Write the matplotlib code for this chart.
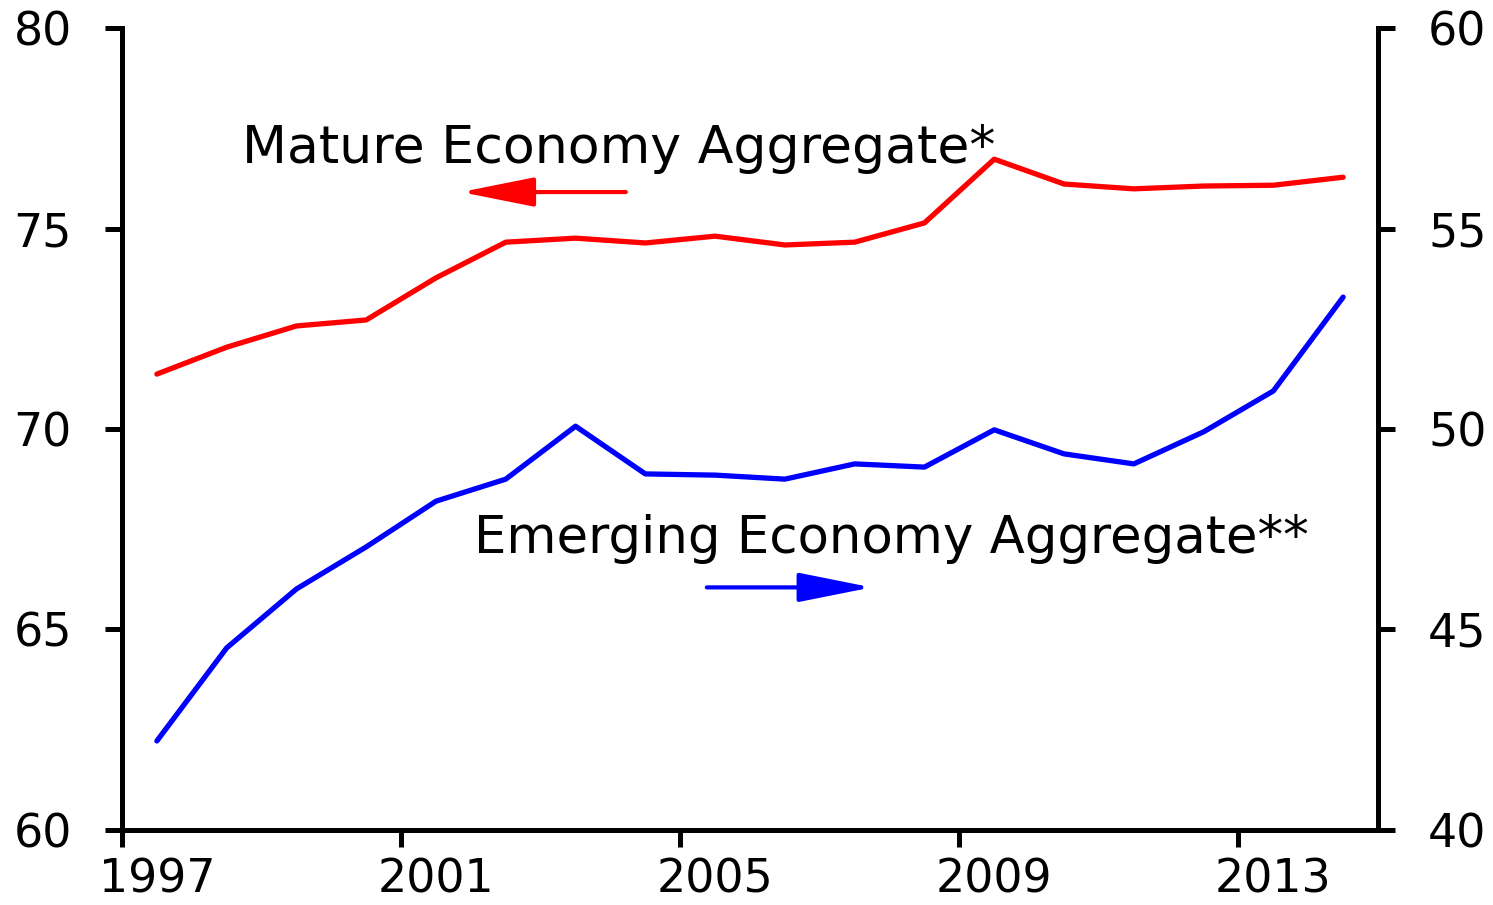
import matplotlib

matplotlib.use("Agg")
import matplotlib.pyplot as plt

RED, BLUE = "#FF0000", "#0000FF"

years = [1997.5 + i for i in range(18)]
mature = [71.37, 72.04, 72.57, 72.72, 73.77, 74.66, 74.76, 74.64, 74.81,
          74.59, 74.66, 75.14, 76.73, 76.11, 75.99, 76.06, 76.08, 76.28]
emerging = [42.22, 44.54, 46.01, 47.06, 48.20, 48.75, 50.07, 48.88, 48.85,
            48.75, 49.13, 49.05, 49.98, 49.38, 49.13, 49.93, 50.95, 53.29]
xticks = [1997, 2001, 2005, 2009, 2013]
left_ticks = [60, 65, 70, 75, 80]
right_ticks = [40, 45, 50, 55, 60]

plt.rcParams["font.family"] = ["DejaVu Sans"]

fig = plt.figure(figsize=(14.93, 9.05), dpi=100)
ax = fig.add_axes([0.0817, 0.0829, 0.9230 - 0.0817, 0.969 - 0.0829])
ax2 = ax.twinx()

ax.plot(years, mature, color=RED, lw=3.8, solid_capstyle="round", zorder=3)
ax2.plot(years, emerging, color=BLUE, lw=3.8, solid_capstyle="round", zorder=3)

ax.set_xlim(1997, 2015)
ax.set_ylim(60, 80)
ax2.set_ylim(40, 60)

# tick marks at the start of each year, labels centred on the year
ax.set_xticks(xticks)
ax.set_xticklabels([])
ax.set_xticks([y + 0.5 for y in xticks], minor=True)
ax.set_xticklabels([str(y) for y in xticks], minor=True)
ax.tick_params(axis="x", which="minor", length=0, pad=20, labelsize=33)

ax.set_yticks(left_ticks)
ax2.set_yticks(right_ticks)

for a in (ax, ax2):
    for s in a.spines.values():
        s.set_linewidth(3.6)
    a.spines["top"].set_visible(False)
    a.tick_params(which="major", direction="out", length=12, width=3.6, labelsize=33, pad=24)

ax.annotate("", xy=(1997 + (461 - 122) / 69.8, 75.91), xytext=(1997 + (626 - 122) / 69.8, 75.91),
            arrowprops=dict(arrowstyle="-|>,head_length=4.5,head_width=0.9", color=RED, lw=3.0,
                            shrinkA=0, shrinkB=0))
ax2.annotate("", xy=(1997 + (872 - 122) / 69.8, 46.05), xytext=(1997 + (707 - 122) / 69.8, 46.05),
             arrowprops=dict(arrowstyle="-|>,head_length=4.5,head_width=0.9", color=BLUE, lw=3.0,
                             shrinkA=0, shrinkB=0))

ax.text(1997 + (242 - 122) / 69.8, 76.63, "Mature Economy Aggregate*", fontsize=37.5,
        ha="left", va="baseline")
ax.text(1997 + (474 - 122) / 69.8, 66.91, "Emerging Economy Aggregate**", fontsize=37,
        ha="left", va="baseline")

fig.savefig("out.png", dpi=100)
